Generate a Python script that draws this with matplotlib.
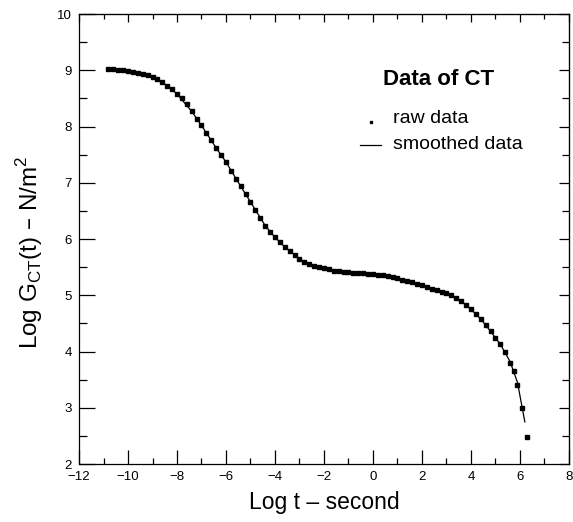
import matplotlib
matplotlib.use("Agg")
import matplotlib.pyplot as plt
from matplotlib.ticker import MultipleLocator

plt.rcParams['font.family'] = ['Liberation Sans', 'DejaVu Sans']

# raw data: log t (s) and log G_CT(t) (N/m^2)
raw_logt = [-10.8, -10.6, -10.4, -10.2, -10.0, -9.8, -9.6, -9.4, -9.2, -9.0,
            -8.8, -8.6, -8.4, -8.2, -8.0, -7.8, -7.6, -7.4, -7.2, -7.0,
            -6.8, -6.6, -6.4, -6.2, -6.0, -5.8, -5.6, -5.4, -5.2, -5.0,
            -4.8, -4.6, -4.4, -4.2, -4.0, -3.8, -3.6, -3.4, -3.2, -3.0,
            -2.8, -2.6, -2.4, -2.2, -2.0, -1.8, -1.6, -1.4, -1.2, -1.0,
            -0.8, -0.6, -0.4, -0.2, 0.0, 0.2, 0.4, 0.6, 0.8, 1.0,
            1.2, 1.4, 1.6, 1.8, 2.0, 2.2, 2.4, 2.6, 2.8, 3.0,
            3.2, 3.4, 3.6, 3.8, 4.0, 4.2, 4.4, 4.6, 4.8, 5.0,
            5.2, 5.4, 5.6, 5.75, 5.9, 6.1, 6.3]
raw_logG = [9.03, 9.02, 9.01, 9.00, 8.98, 8.97, 8.95, 8.93, 8.91, 8.88,
            8.84, 8.79, 8.73, 8.66, 8.58, 8.50, 8.40, 8.27, 8.14, 8.02,
            7.89, 7.76, 7.62, 7.50, 7.37, 7.21, 7.07, 6.94, 6.80, 6.66,
            6.52, 6.38, 6.24, 6.12, 6.03, 5.95, 5.86, 5.79, 5.72, 5.65,
            5.59, 5.55, 5.52, 5.50, 5.48, 5.46, 5.44, 5.43, 5.42, 5.41,
            5.40, 5.40, 5.39, 5.38, 5.38, 5.37, 5.36, 5.34, 5.32, 5.30,
            5.28, 5.26, 5.23, 5.21, 5.18, 5.15, 5.12, 5.09, 5.06, 5.04,
            5.01, 4.96, 4.90, 4.83, 4.75, 4.67, 4.58, 4.48, 4.36, 4.25,
            4.13, 4.00, 3.80, 3.66, 3.40, 3.00, 2.48]

# smoothed data
smooth_logt = [-10.8, -10.0, -9.0, -8.4, -8.0, -7.4, -7.0, -6.4, -6.0, -5.4,
               -5.0, -4.4, -4.0, -3.6, -3.2, -2.8, -2.4, -2.0, -1.0, 0.0,
               1.0, 2.0, 3.0, 3.6, 4.0, 4.4, 4.8, 5.2, 5.6, 5.9, 6.2]
smooth_logG = [9.03, 8.98, 8.88, 8.73, 8.58, 8.27, 8.02, 7.62, 7.37, 6.94,
               6.66, 6.24, 6.03, 5.86, 5.72, 5.59, 5.52, 5.48, 5.41, 5.38,
               5.30, 5.18, 5.04, 4.90, 4.75, 4.58, 4.36, 4.13, 3.82, 3.45, 2.75]

fig = plt.figure(figsize=(5.73, 5.22), dpi=100)
ax = fig.add_axes([0.1379, 0.111, 0.855, 0.862])

ax.plot(smooth_logt, smooth_logG, color='black', lw=0.9)
ax.plot(raw_logt, raw_logG, linestyle='none', marker='s', markersize=3.3,
        color='black')

ax.set_xlim(-12, 8)
ax.set_ylim(2, 10)
ax.xaxis.set_major_locator(MultipleLocator(2))
ax.xaxis.set_minor_locator(MultipleLocator(1))
ax.yaxis.set_major_locator(MultipleLocator(1))
ax.yaxis.set_minor_locator(MultipleLocator(0.5))
ax.tick_params(which='both', direction='in', top=False, right=False,
               labelsize=9.5, width=0.9)
ax.tick_params(axis='x', which='major', length=10, pad=5)
ax.tick_params(axis='x', which='minor', length=4.5)
ax.tick_params(axis='y', which='major', length=11.5, pad=5)
ax.tick_params(axis='y', which='minor', length=5.5)
for s in ax.spines.values():
    s.set_linewidth(0.9)

# shorter ticks on top and right
secx = ax.secondary_xaxis('top')
secx.xaxis.set_major_locator(MultipleLocator(2))
secx.xaxis.set_minor_locator(MultipleLocator(1))
secx.tick_params(which='both', direction='in', labeltop=False, width=0.9)
secx.tick_params(which='major', length=5.5)
secx.tick_params(which='minor', length=3.5)
secy = ax.secondary_yaxis('right')
secy.yaxis.set_major_locator(MultipleLocator(1))
secy.yaxis.set_minor_locator(MultipleLocator(0.5))
secy.tick_params(which='both', direction='in', labelright=False, width=0.9)
secy.tick_params(which='major', length=7)
secy.tick_params(which='minor', length=5)

ax.set_xlabel('Log t – second', fontsize=16.5, labelpad=6)
ax.set_ylabel(r'Log G$_{\mathregular{CT}}$(t) – N/m$^{\mathregular{2}}$',
              fontsize=17.5)
ax.yaxis.set_label_coords(-0.07, 0.47)

# legend drawn as text
ax.text(2.68, 8.83, 'Data of CT', fontsize=16, fontweight='bold',
        ha='center', va='center')
ax.plot([-0.06], [8.08], marker='s', markersize=2.0, color='black',
        linestyle='none')
ax.text(0.80, 8.15, 'raw data', fontsize=14, ha='left', va='center')
ax.plot([-0.51, 0.31], [7.67, 7.67], color='black', lw=0.9)
ax.text(0.80, 7.68, 'smoothed data', fontsize=14, ha='left', va='center')

fig.savefig('out.png', dpi=100)
